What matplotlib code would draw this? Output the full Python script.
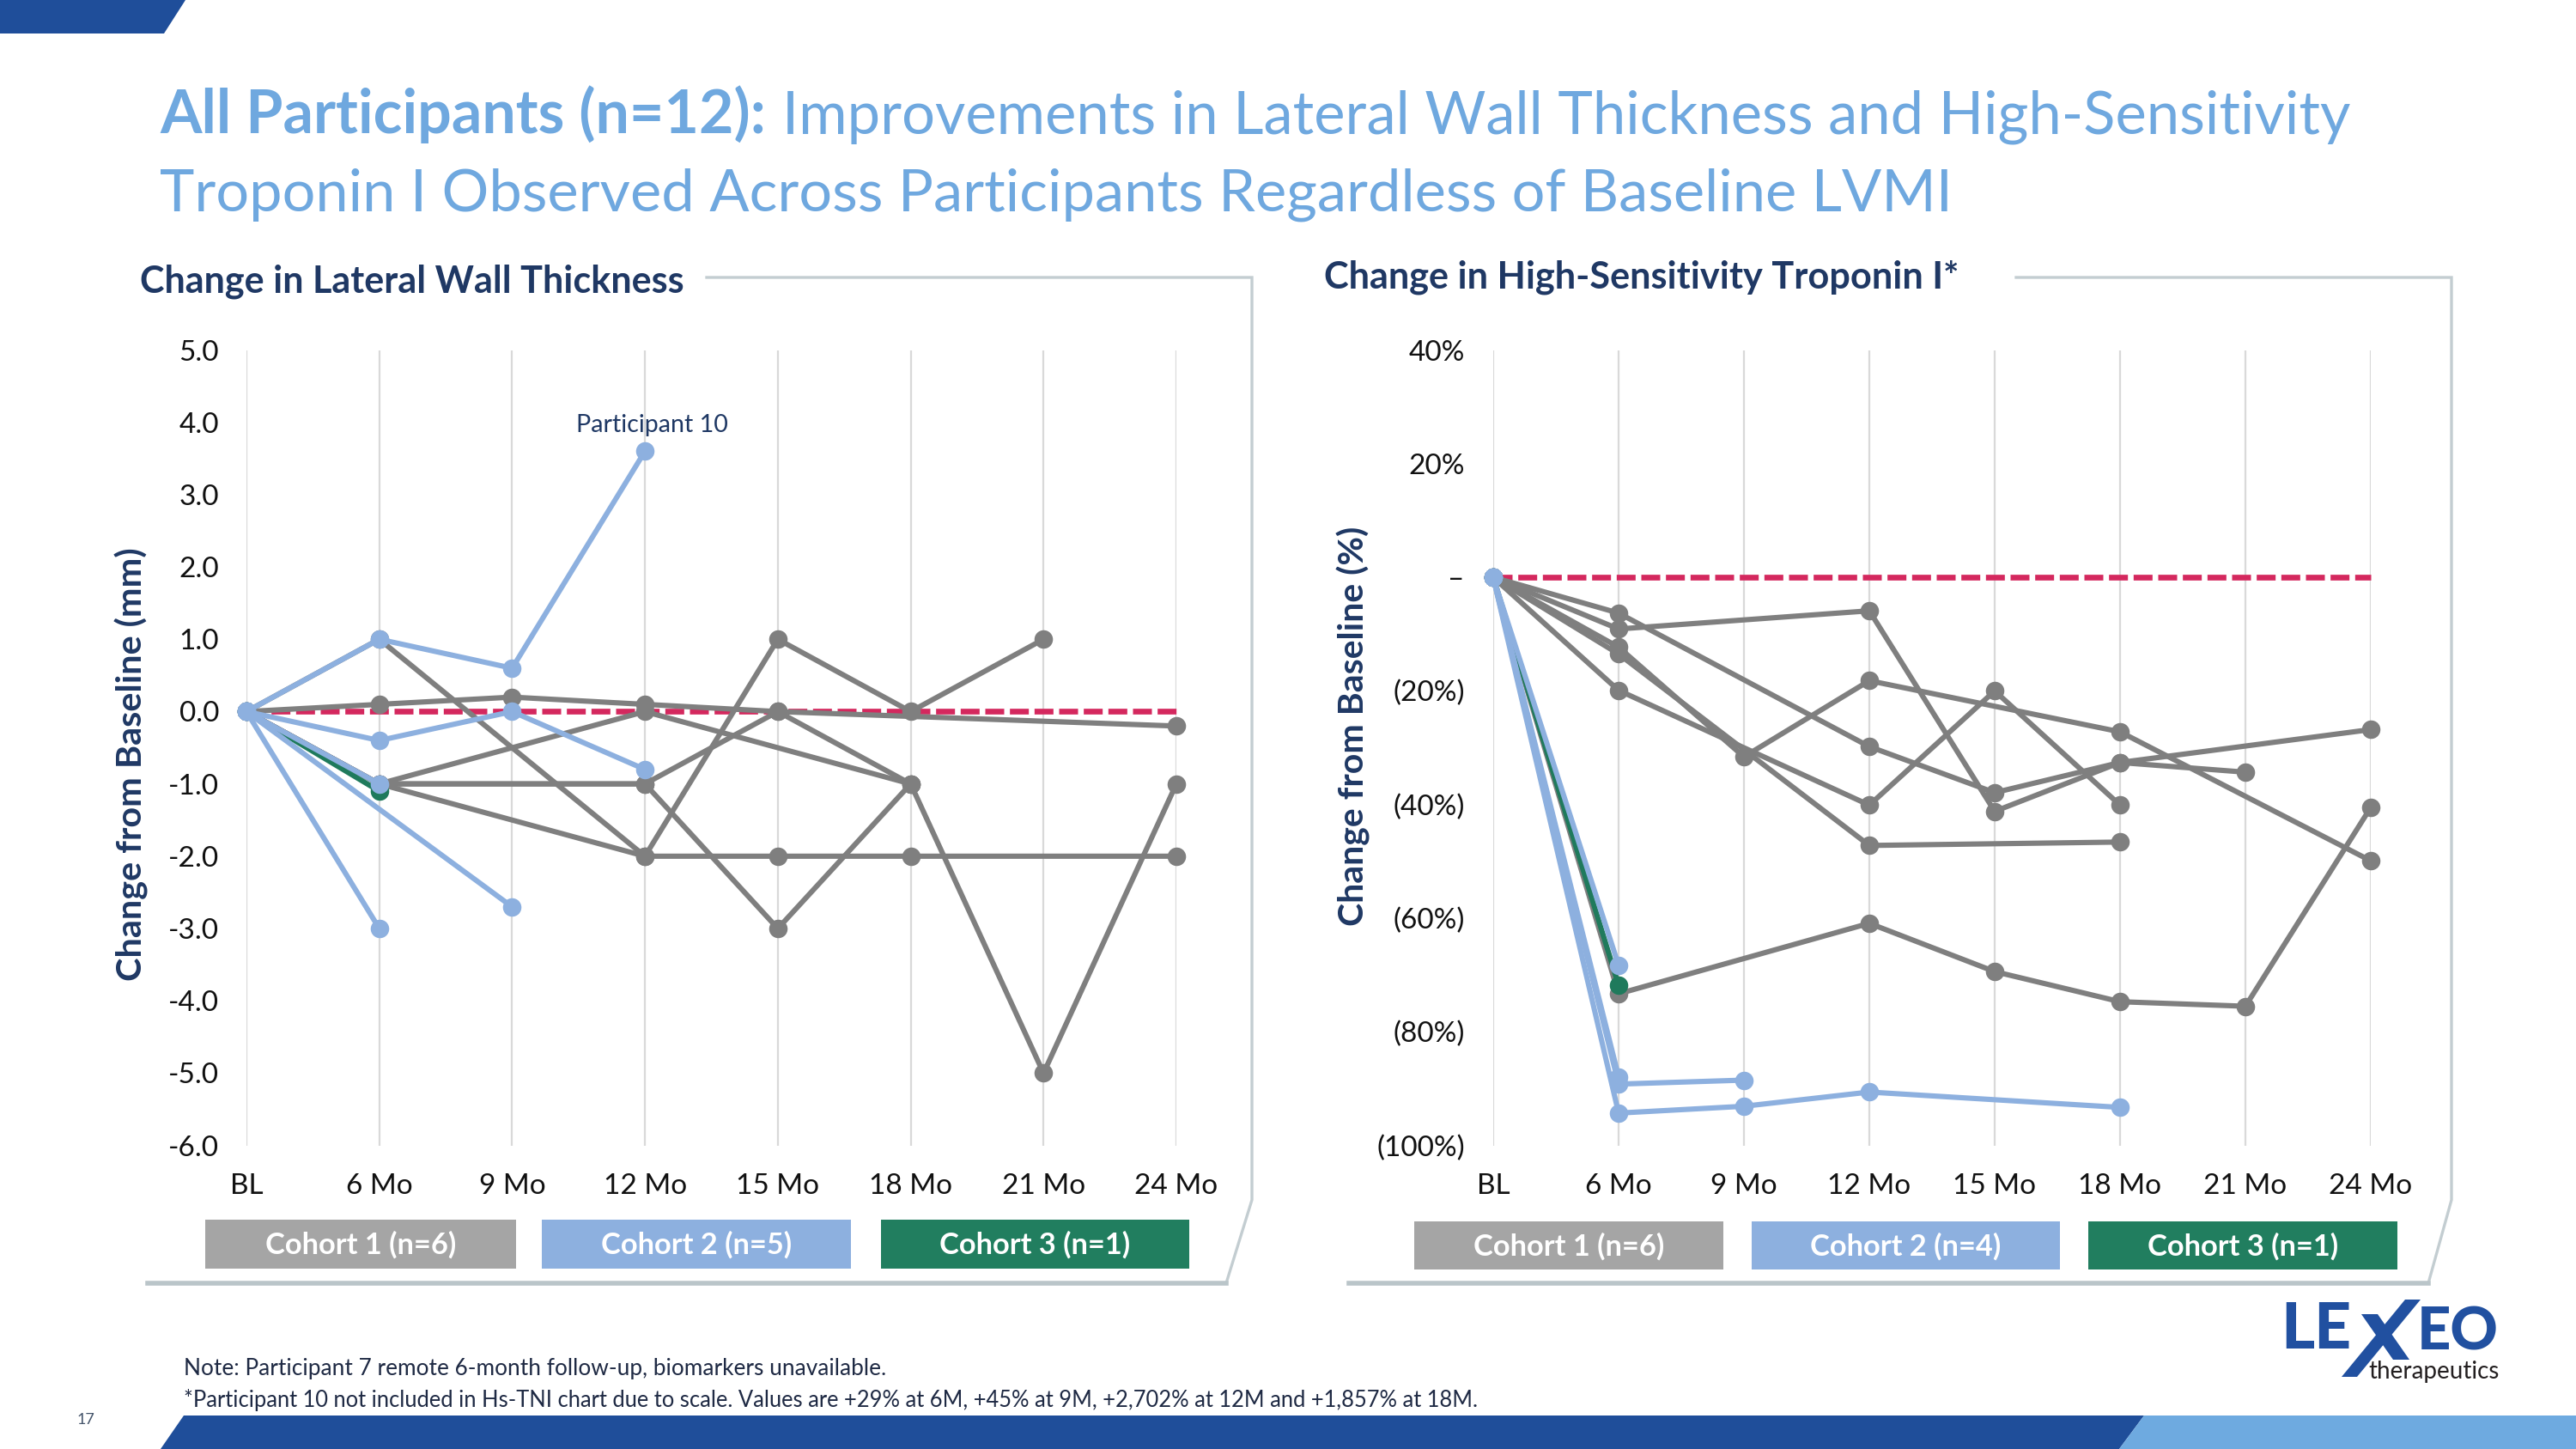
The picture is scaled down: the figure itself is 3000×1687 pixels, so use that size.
import numpy as np
import matplotlib
matplotlib.use("Agg")
import matplotlib.pyplot as plt
from matplotlib.patches import Polygon, Rectangle
from matplotlib.lines import Line2D

nan = np.nan

# ---------------- data ----------------
categories = ["BL", "6 Mo", "9 Mo", "12 Mo", "15 Mo", "18 Mo", "21 Mo", "24 Mo"]

# Change in lateral wall thickness (mm)
lwt_cohort1 = [
    [0, 0.1, 0.2, 0.1, 0.0, nan, nan, -0.2],
    [0, 1.0, nan, -2.0, -2.0, -2.0, nan, -2.0],
    [0, -1.0, nan, -2.0, 1.0, 0.0, 1.0, nan],
    [0, -1.0, nan, 0.0, nan, -1.0, -5.0, -1.0],
    [0, -1.0, nan, -1.0, 0.0, -1.0, nan, nan],
    [0, -1.0, nan, -1.0, -3.0, -1.0, nan, nan],
]
lwt_cohort2 = [
    [0, 1.0, 0.6, 3.6],
    [0, -0.4, 0.0, -0.8],
    [0, -3.0],
    [0, nan, -2.7],
    [0, -1.0],
]
lwt_cohort3 = [
    [0, -1.1],
]
lwt_yticks = [5, 4, 3, 2, 1, 0, -1, -2, -3, -4, -5, -6]
lwt_yticklabels = ["5.0", "4.0", "3.0", "2.0", "1.0", "0.0", "-1.0", "-2.0", "-3.0", "-4.0", "-5.0", "-6.0"]

# Change in high-sensitivity troponin I (%)
tni_cohort1 = [
    [0, -6.3, nan, -29.8, -37.9, -32.6, nan, -26.8],
    [0, -9.1, nan, -5.9, -41.2, -32.6, -34.3, nan],
    [0, -12.3, -31.6, -18.2, nan, -27.2, nan, -49.9],
    [0, -13.5, nan, -47.2, nan, -46.6, nan, nan],
    [0, -19.9, nan, -40.1, -20.0, -40.1, nan, nan],
    [0, -73.3, nan, -60.9, -69.4, -74.7, -75.5, -40.5],
]
tni_cohort2 = [
    [0, -68.3],
    [0, -87.9],
    [0, -89.2, -88.5],
    [0, -94.3, -93.1, -90.6, nan, -93.3],
]
tni_cohort3 = [
    [0, -71.8],
]
tni_yticks = [40, 20, 0, -20, -40, -60, -80, -100]
tni_yticklabels = ["40%", "20%", "\u2013", "(20%)", "(40%)", "(60%)", "(80%)", "(100%)"]

lwt_legend = ["Cohort 1 (n=6)", "Cohort 2 (n=5)", "Cohort 3 (n=1)"]
tni_legend = ["Cohort 1 (n=6)", "Cohort 2 (n=4)", "Cohort 3 (n=1)"]

# ---------------- style ----------------
GRAY = "#7F7F7F"
BLUE = "#8DB0DF"
GREEN = "#1F7A5C"
RED = "#D4285E"
NAVY = "#1F3864"
TITLE_BLUE = "#6FA8DF"
LEG_COLORS = ["#A5A5A5", "#8DB0DF", "#217E5F"]
FRAME = "#C3CDD1"
DARK_BLUE = "#1F4E9A"
LIGHT_BLUE = "#6EAAE0"

plt.rcParams["font.family"] = ["Lato", "DejaVu Sans"]

W, H = 3000, 1687
fig = plt.figure(figsize=(30, 16.87), dpi=100)
renderer = fig.canvas.get_renderer()


def fx(x):
    return x / W


def fy(y):
    return 1 - y / H


def rect(x0, x1, ytop, ybot):
    return [x0 / W, 1 - ybot / H, (x1 - x0) / W, (ybot - ytop) / H]


def fit(t, target, vertical=False):
    bb = t.get_window_extent(renderer=renderer)
    cur = bb.height if vertical else bb.width
    t.set_fontsize(t.get_fontsize() * target / cur)
    return t


def style(ax, ylim, yticks, yticklabels, ypad):
    ax.set_xlim(0, len(categories) - 1)
    ax.set_ylim(*ylim)
    ax.set_xticks(range(len(categories)))
    ax.set_xticklabels(categories)
    ax.set_yticks(yticks)
    ax.set_yticklabels(yticklabels)
    for s in ax.spines.values():
        s.set_visible(False)
    ax.tick_params(axis="both", length=0, labelsize=24, labelcolor="#111111")
    ax.tick_params(axis="x", pad=23)
    ax.tick_params(axis="y", pad=ypad)
    ax.grid(axis="x", color="#D9D9D9", lw=1.6)
    ax.grid(axis="y", visible=False)
    ax.set_axisbelow(True)
    ax.patch.set_alpha(0)


def draw_series(ax, series, color, z):
    x = np.arange(len(categories))
    for s in series:
        y = np.array(list(s) + [nan] * (len(categories) - len(s)), dtype=float)
        m = ~np.isnan(y)
        ax.plot(x[m], y[m], color=color, lw=4.4, marker="o", ms=15.5, mew=0,
                zorder=z, clip_on=False, solid_joinstyle="round", solid_capstyle="round")


def baseline(ax):
    x = np.arange(len(categories))
    ax.plot(x, np.zeros(len(categories)), color=RED, lw=4.8, ls=(0, (3.3, 1.0)),
            zorder=2, clip_on=False)


axL = fig.add_axes(rect(287, 1370, 407.5, 1333.6))
axR = fig.add_axes(rect(1739, 2761, 407.5, 1333.6))

style(axL, (-6, 5), lwt_yticks, lwt_yticklabels, 23)
style(axR, (-100, 40), tni_yticks, tni_yticklabels, 24)

for ax, c1, c2, c3 in [(axL, lwt_cohort1, lwt_cohort2, lwt_cohort3),
                       (axR, tni_cohort1, tni_cohort2, tni_cohort3)]:
    baseline(ax)
    draw_series(ax, c1, GRAY, 3)
    draw_series(ax, c3, GREEN, 4)
    draw_series(ax, c2, BLUE, 5)

# annotation
ann = axL.annotate("Participant 10", xy=(3, lwt_cohort2[0][3]), xytext=(6, 22),
                   textcoords="offset points", ha="center", va="center",
                   color=NAVY, fontsize=20)
fit(ann, 177)

# y labels
yl = fig.text(fx(153), fy(890), "Change from Baseline (mm)", rotation=90, ha="center",
              va="center", color=NAVY, fontweight="bold", fontsize=30)
fit(yl, 505, vertical=True)
yr = fig.text(fx(1576), fy(845), "Change from Baseline (%)", rotation=90, ha="center",
              va="center", color=NAVY, fontweight="bold", fontsize=30)
fit(yr, 465, vertical=True)

# ---------------- titles ----------------
t2 = fig.text(fx(186), fy(245), "Troponin I Observed Across Participants Regardless of Baseline LVMI",
              ha="left", va="baseline", color=TITLE_BLUE, fontsize=48)
fit(t2, 2085)
tsize = t2.get_fontsize()
t1a = fig.text(fx(186), fy(155), "All Participants (n=12):", ha="left", va="baseline",
               color=TITLE_BLUE, fontsize=tsize, fontweight="bold")
fit(t1a, 707)
t1b = fig.text(fx(911), fy(155),
               "Improvements in Lateral Wall Thickness and High-Sensitivity",
               ha="left", va="baseline", color=TITLE_BLUE, fontsize=tsize)
fit(t1b, 1829)

s1 = fig.text(fx(163), fy(328), "Change in Lateral Wall Thickness", ha="left", va="center",
              color=NAVY, fontweight="bold", fontsize=32)
fit(s1, 635)
s2 = fig.text(fx(1542), fy(323), "Change in High-Sensitivity Troponin I*", ha="left", va="center",
              color=NAVY, fontweight="bold", fontsize=32)
fit(s2, 739)

# ---------------- frames ----------------
for pts in [[(823, 323), (1458, 323), (1458, 1397), (1428, 1494), (172, 1494)],
            [(2348, 323), (2855, 323), (2855, 1397), (2828, 1494), (1571, 1494)]]:
    xs = [fx(p[0]) for p in pts]
    ys = [fy(p[1]) for p in pts]
    fig.add_artist(Line2D(xs[:4], ys[:4], color=FRAME, lw=2.4, transform=fig.transFigure,
                          solid_joinstyle="miter"))
    fig.add_artist(Line2D(xs[3:], ys[3:], color="#BAC5C9", lw=4.0, transform=fig.transFigure))

# ---------------- legend boxes ----------------
def legend_row(xspans, ytop, ybot, labels):
    texts = []
    for (x0, x1), col, lab in zip(xspans, LEG_COLORS, labels):
        fig.add_artist(Rectangle((fx(x0), fy(ybot)), (x1 - x0) / W, (ybot - ytop) / H,
                                 transform=fig.transFigure, color=col, lw=0))
        texts.append(fig.text(fx((x0 + x1) / 2), fy((ytop + ybot) / 2 + 1), lab, ha="center",
                              va="center", color="white", fontweight="bold", fontsize=26))
    fit(texts[0], 222)
    for t in texts[1:]:
        t.set_fontsize(texts[0].get_fontsize())


legend_row([(239, 601), (631, 991), (1026, 1385)], 1420, 1477, lwt_legend)
legend_row([(1647, 2007), (2040, 2399), (2432, 2792)], 1422, 1478, tni_legend)

# ---------------- footnotes ----------------
n1 = fig.text(fx(214), fy(1594), "Note: Participant 7 remote 6-month follow-up, biomarkers unavailable.",
              ha="left", va="center", color="#1F2A44", fontsize=18)
fit(n1, 813)
n2 = fig.text(fx(214), fy(1630),
              "*Participant 10 not included in Hs-TNI chart due to scale. Values are +29% at 6M, "
              "+45% at 9M, +2,702% at 12M and +1,857% at 18M.",
              ha="left", va="center", color="#1F2A44", fontsize=18)
fit(n2, 1508)
fig.text(fx(100), fy(1653), "17", ha="center", va="center", color="#44546A", fontsize=13)

# ---------------- decorations ----------------
def poly(pts, color):
    fig.add_artist(Polygon([(fx(x), fy(y)) for x, y in pts], closed=True,
                           transform=fig.transFigure, color=color, lw=0))


poly([(0, 0), (216, 0), (191, 39), (0, 39)], DARK_BLUE)
poly([(214, 1648), (2497, 1648), (2468, 1687), (187, 1687)], DARK_BLUE)
poly([(2497, 1648), (3000, 1648), (3000, 1687), (2468, 1687)], LIGHT_BLUE)

# logo
LOGO = "#2150A0"
lg1 = fig.text(fx(2656), fy(1583), "LE", ha="left", va="bottom", color=LOGO,
               fontweight="black", fontsize=40)
fit(lg1, 82)
lg2 = fig.text(fx(2815), fy(1583), "EO", ha="left", va="bottom", color=LOGO,
               fontweight="black", fontsize=40)
fit(lg2, 95)
poly([(2750, 1530), (2769, 1530), (2806, 1583), (2787, 1583)], LOGO)
poly([(2801, 1513), (2819, 1513), (2745, 1603), (2727, 1603)], LOGO)
lg3 = fig.text(fx(2758), fy(1584), "therapeutics", ha="left", va="top", color="#231F20",
               fontsize=18)
fit(lg3, 151)

fig.savefig("out.png", dpi=100)
